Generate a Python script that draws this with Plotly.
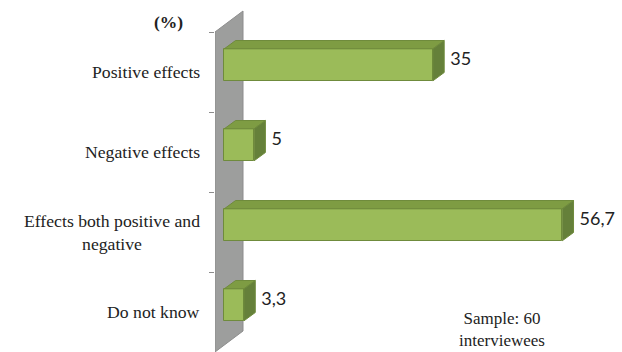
import plotly.graph_objects as go

# ---- data ----
categories = ["Positive effects", "Negative effects",
              "Effects both positive and<br>negative", "Do not know"]
values = [35, 5, 56.7, 3.3]
value_labels = ["35", "5", "56,7", "3,3"]

# ---- style / geometry constants ----
W, H = 622, 352
X0_PX = 224.3          # pixel of x=0
PX_PER_UNIT = 5.96     # pixels per percent
PLOT_LEFT = 215
PLOT_RIGHT = 620
Y0_PX = 72             # pixel of first category centre
PX_PER_CAT = 80
LABEL_RIGHT_PX = 202

def xd(px):
    return (px - X0_PX) / PX_PER_UNIT

def yd(py):
    return (py - Y0_PX) / PX_PER_CAT

def xp(px):
    return (px - PLOT_LEFT) / (PLOT_RIGHT - PLOT_LEFT)

def yp(py):
    return 1 - py / H

x_range = [xd(PLOT_LEFT), xd(PLOT_RIGHT)]
y_range = [yd(H), yd(0)]

bar_width = 0.40
bar_offset = -0.29
depth_dx = 11.3 / PX_PER_UNIT
depth_dy = -8.3 / PX_PER_CAT
wall_dx = 28 / PX_PER_UNIT
wall_dy = -21 / PX_PER_CAT
label_gap = 6 / PX_PER_UNIT

FRONT = "#9BBB59"
TOP = "#7E9C43"
SIDE = "#65803A"
EDGE = "#6F8B3C"
TEXT = "#222222"
SERIF = "Liberation Serif"

pos = list(range(len(categories)))

fig = go.Figure()

# wall (below traces)
xl = x_range[0]
yt, yb = -0.5, len(categories) - 0.5
wall_path = (f"M {xl},{yt} L {xl + wall_dx},{yt + wall_dy} "
             f"L {xl + wall_dx},{yb + wall_dy} L {xl},{yb} Z")
fig.add_shape(type="path", path=wall_path, xref="x", yref="y",
              fillcolor="#9D9E9D", line=dict(color="#8C8C8C", width=1),
              layer="below")

# front faces
fig.add_trace(go.Bar(
    y=pos, x=values, orientation="h", base=0,
    width=bar_width, offset=bar_offset,
    marker=dict(color=FRONT, line=dict(color=EDGE, width=1)),
    hoverinfo="skip", showlegend=False))

# top and side faces
for p, v in zip(pos, values):
    top = p + bar_offset
    bot = top + bar_width
    fig.add_trace(go.Scatter(
        x=[0, v, v + depth_dx, depth_dx, 0],
        y=[top, top, top + depth_dy, top + depth_dy, top],
        fill="toself", fillcolor=TOP, mode="lines",
        line=dict(color=EDGE, width=1), hoverinfo="skip", showlegend=False))
    fig.add_trace(go.Scatter(
        x=[v, v + depth_dx, v + depth_dx, v, v],
        y=[top, top + depth_dy, bot + depth_dy, bot, top],
        fill="toself", fillcolor=SIDE, mode="lines",
        line=dict(color=EDGE, width=1), hoverinfo="skip", showlegend=False))

# value labels
fig.add_trace(go.Scatter(
    x=[v + depth_dx + label_gap for v in values],
    y=[p + bar_offset + (bar_width + depth_dy) / 2 for p in pos],
    mode="text", text=value_labels, textposition="middle right",
    textfont=dict(family="Lato", size=18, color=TEXT),
    hoverinfo="skip", showlegend=False, cliponaxis=False))

# category labels (centre-aligned lines, right-anchored block)
annotations = [
    dict(x=xp(LABEL_RIGHT_PX), y=p, xref="paper", yref="y",
         xanchor="right", yanchor="middle", align="center",
         text=c, showarrow=False,
         font=dict(family=SERIF, size=17.7, color=TEXT))
    for p, c in zip(pos, categories)
]
annotations += [
    dict(x=xp(168), y=yp(22), xref="paper", yref="paper",
         xanchor="center", yanchor="middle",
         text="<b>(%)</b>", showarrow=False,
         font=dict(family=SERIF, size=17.5, color=TEXT)),
    dict(x=xp(502), y=yp(352), xref="paper", yref="paper",
         xanchor="center", yanchor="bottom",
         text="Sample: 60<br>interviewees", showarrow=False,
         font=dict(family=SERIF, size=17, color=TEXT)),
]

fig.update_layout(
    width=W, height=H,
    margin=dict(l=PLOT_LEFT, r=W - PLOT_RIGHT, t=0, b=0),
    paper_bgcolor="white", plot_bgcolor="white",
    bargap=0,
    xaxis=dict(range=x_range, visible=False, fixedrange=True),
    yaxis=dict(range=y_range, tickmode="array", tickvals=pos,
               showticklabels=False, ticks="", showgrid=False,
               zeroline=False, showline=False,
               minor=dict(tickmode="array",
                          tickvals=[i - 0.5 for i in range(len(categories) + 1)],
                          ticks="outside", ticklen=5, tickcolor="#8C8C8C",
                          showgrid=False),
               fixedrange=True),
    annotations=annotations,
)

fig.write_html("out.html")
